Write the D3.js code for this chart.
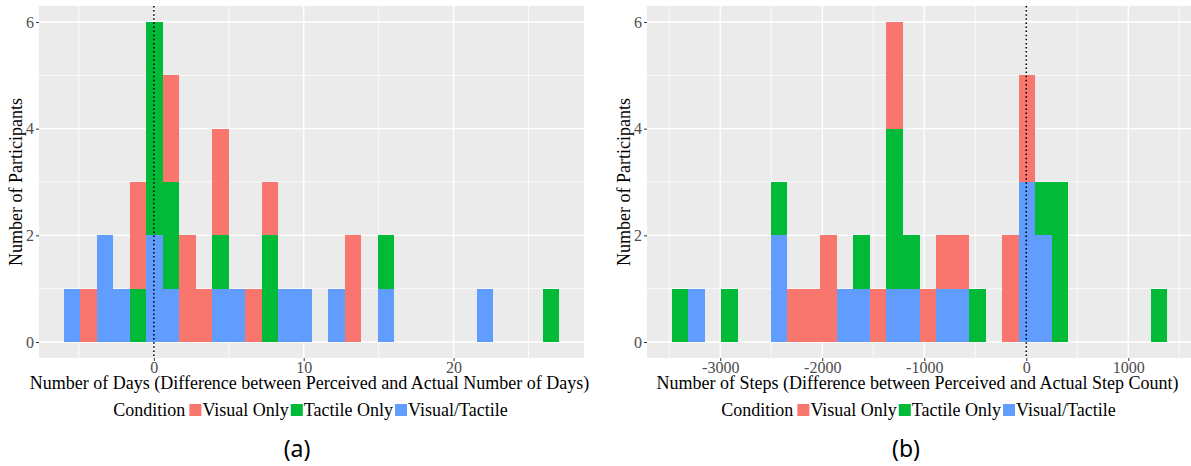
<!DOCTYPE html>
<html lang="en">
<head>
    <meta charset="UTF-8">
    <title>Perceived vs Actual: Days and Steps</title>
    <style>
        html, body {
            margin: 0;
            padding: 0;
            background: #fff;
            overflow: hidden;
        }
        svg {
            display: block;
        }
        text {
            font-family: "Liberation Serif", serif;
        }
        .axis-title {
            fill: #000;
            font-size: 18px;
        }
        .legend-text {
            fill: #000;
            font-size: 18px;
        }
        .caption {
            font-family: "Noto Sans", sans-serif;
            font-size: 23px;
            fill: #000;
        }
    </style>
    <script src="https://d3js.org/d3.v7.min.js"></script>
</head>
<body>
    <svg></svg>
    <script>
        // legend / fill levels (ggplot default hue palette)
        var conditions = ["Visual Only", "Tactile Only", "Visual/Tactile"];
        var conditionColors = ["#F8766D", "#00BA38", "#619CFF"];

        // (a) days: 30 bins, first and last bin centre
        var daysBinRange = [-5.46, 26.5];
        var daysVisualOnly    = [0,1,0,0,2,0,2,2,1,2,0,1,1,0,0,0,0,2,0,0,0,0,0,0,0,0,0,0,0,0];
        var daysTactileOnly   = [0,0,0,0,1,4,2,0,0,1,0,0,2,0,0,0,0,0,0,1,0,0,0,0,0,0,0,0,0,1];
        var daysVisualTactile = [1,0,2,1,0,2,1,0,0,1,1,0,0,1,1,0,1,0,0,1,0,0,0,0,0,1,0,0,0,0];
        var daysTicks = [0, 10, 20];

        // (b) steps: 30 bins, first and last bin centre
        var stepsBinRange = [-3394, 1301];
        var stepsVisualOnly    = [0,0,0,0,0,0,0,1,1,2,0,0,1,2,0,1,1,1,0,0,2,2,0,0,0,0,0,0,0,0];
        var stepsTactileOnly   = [1,0,0,1,0,0,1,0,0,0,0,1,0,3,1,0,0,0,1,0,0,0,1,3,0,0,0,0,0,1];
        var stepsVisualTactile = [0,1,0,0,0,0,2,0,0,0,1,1,0,1,1,0,1,1,0,0,0,3,2,0,0,0,0,0,0,0];
        var stepsTicks = [-3000, -2000, -1000, 0, 1000];

        var yTicks = [0, 2, 4, 6];
        var yLabel = "Number of Participants";

        var width = 1191, height = 466;
        var svg = d3.select("svg").attr("width", width).attr("height", height);

        var panel = {left: 39, top: 6, width: 545, height: 352};

        function styleTicks(axisG) {
            axisG.select(".domain").remove();
            axisG.attr("font-family", null).attr("font-size", null);
            axisG.selectAll(".tick line").attr("stroke", "#333").attr("stroke-width", 1);
            axisG.selectAll(".tick text")
                .style("font-family", "'Liberation Serif', serif")
                .style("font-size", "16px")
                .style("fill", "#4D4D4D");
        }

        function drawHist(opt) {
            var g = svg.append("g")
                .attr("transform", "translate(" + opt.offset + ",0)")
                .attr("clip-path", "url(#" + opt.id + "-clip)");

            g.append("clipPath").attr("id", opt.id + "-clip")
                .append("rect").attr("x", 0).attr("y", 0).attr("width", 589).attr("height", height);

            var nBins = opt.visual.length;
            var binW = (opt.binRange[1] - opt.binRange[0]) / (nBins - 1);
            var rows = d3.range(nBins).map(function(i) {
                return {
                    center: opt.binRange[0] + i * binW,
                    "Visual Only": opt.visual[i],
                    "Tactile Only": opt.tactile[i],
                    "Visual/Tactile": opt.both[i]
                };
            });

            var lo = opt.binRange[0] - binW / 2, hi = opt.binRange[1] + binW / 2;
            var pad = (hi - lo) * 0.05;
            var x = d3.scaleLinear().domain([lo - pad, hi + pad])
                .range([panel.left, panel.left + panel.width]);

            // bottom of stack is last level, as ggplot stacks
            var stacked = d3.stack().keys(conditions.slice().reverse())(rows);
            var yMax = d3.max(rows, function(r) { return r["Visual Only"] + r["Tactile Only"] + r["Visual/Tactile"]; });
            var y = d3.scaleLinear().domain([-0.05 * yMax, yMax * 1.05])
                .range([panel.top + panel.height, panel.top]);

            // panel background
            g.append("rect")
                .attr("x", panel.left).attr("y", panel.top)
                .attr("width", panel.width).attr("height", panel.height)
                .attr("fill", "#EBEBEB");

            // minor grid halfway between majors
            var step = opt.ticks[1] - opt.ticks[0];
            var xMinor = d3.range(opt.ticks.length + 1)
                .map(function(k) { return opt.ticks[0] - step / 2 + k * step; })
                .filter(function(v) { return v > x.domain()[0] && v < x.domain()[1]; });
            var yMinor = [1, 3, 5];
            var grid = g.append("g");
            grid.selectAll(".xminor").data(xMinor).enter().append("line")
                .attr("x1", function(d) { return x(d); }).attr("x2", function(d) { return x(d); })
                .attr("y1", panel.top).attr("y2", panel.top + panel.height)
                .attr("stroke", "#fff").attr("stroke-width", 0.8);
            grid.selectAll(".yminor").data(yMinor).enter().append("line")
                .attr("y1", function(d) { return y(d); }).attr("y2", function(d) { return y(d); })
                .attr("x1", panel.left).attr("x2", panel.left + panel.width)
                .attr("stroke", "#fff").attr("stroke-width", 0.8);
            grid.selectAll(".xmajor").data(opt.ticks).enter().append("line")
                .attr("x1", function(d) { return x(d); }).attr("x2", function(d) { return x(d); })
                .attr("y1", panel.top).attr("y2", panel.top + panel.height)
                .attr("stroke", "#fff").attr("stroke-width", 1.4);
            grid.selectAll(".ymajor").data(yTicks).enter().append("line")
                .attr("y1", function(d) { return y(d); }).attr("y2", function(d) { return y(d); })
                .attr("x1", panel.left).attr("x2", panel.left + panel.width)
                .attr("stroke", "#fff").attr("stroke-width", 1.4);

            // stacked bars
            g.append("g").selectAll("g")
                .data(stacked).enter().append("g")
                .attr("fill", function(s) { return conditionColors[conditions.indexOf(s.key)]; })
                .selectAll("rect")
                .data(function(s) { return s.filter(function(d) { return d[1] > d[0]; }); })
                .enter().append("rect")
                .attr("x", function(d) { return x(d.data.center - binW / 2); })
                .attr("width", function(d) { return x(d.data.center + binW / 2) - x(d.data.center - binW / 2); })
                .attr("y", function(d) { return y(d[1]); })
                .attr("height", function(d) { return y(d[0]) - y(d[1]); })
                .attr("shape-rendering", "crispEdges");

            // zero reference line
            g.append("line")
                .attr("x1", x(0)).attr("x2", x(0))
                .attr("y1", panel.top).attr("y2", panel.top + panel.height)
                .attr("stroke", "#000").attr("stroke-width", 1.6)
                .attr("stroke-dasharray", "1.5 2.6");

            // axes
            var xAxis = g.append("g")
                .attr("transform", "translate(0," + (panel.top + panel.height) + ")")
                .call(d3.axisBottom(x).tickValues(opt.ticks).tickSize(3).tickPadding(1)
                    .tickFormat(function(d) { return String(d); }));
            styleTicks(xAxis);

            var yAxis = g.append("g")
                .attr("transform", "translate(" + panel.left + ",0)")
                .call(d3.axisLeft(y).tickValues(yTicks).tickSize(3).tickPadding(2)
                    .tickFormat(function(d) { return String(d); }));
            styleTicks(yAxis);

            var cx = panel.left + panel.width / 2;

            // titles
            g.append("text").attr("class", "axis-title")
                .attr("x", cx - 2).attr("y", 389)
                .attr("text-anchor", "middle")
                .text(opt.xTitle);

            g.append("text").attr("class", "axis-title")
                .attr("transform", "translate(22," + (panel.top + panel.height / 2) + ") rotate(-90)")
                .attr("text-anchor", "middle")
                .text(yLabel);

            // legend, centred under the panel
            var legend = g.append("g");
            var title = legend.append("text").attr("class", "legend-text")
                .attr("x", 0).attr("y", 416).text("Condition");
            var lx = title.node().getComputedTextLength() + 4;
            conditions.forEach(function(c, i) {
                legend.append("rect")
                    .attr("x", lx).attr("y", 404)
                    .attr("width", 12).attr("height", 12)
                    .attr("fill", conditionColors[i]);
                lx += 13;
                var t = legend.append("text").attr("class", "legend-text")
                    .attr("x", lx).attr("y", 416).text(c);
                lx += t.node().getComputedTextLength() + 2;
            });
            legend.attr("transform", "translate(" + (cx - lx / 2) + ",0)");

            g.append("text").attr("class", "caption")
                .attr("x", opt.captionX).attr("y", 457)
                .attr("text-anchor", "middle")
                .text(opt.caption);
        }

        drawHist({
            id: "days", offset: 0,
            binRange: daysBinRange,
            visual: daysVisualOnly, tactile: daysTactileOnly, both: daysVisualTactile,
            ticks: daysTicks,
            xTitle: "Number of Days (Difference between Perceived and Actual Number of Days)",
            caption: "(a)", captionX: 297
        });

        drawHist({
            id: "steps", offset: 608,
            binRange: stepsBinRange,
            visual: stepsVisualOnly, tactile: stepsTactileOnly, both: stepsVisualTactile,
            ticks: stepsTicks,
            xTitle: "Number of Steps (Difference between Perceived and Actual Step Count)",
            caption: "(b)", captionX: 298
        });
    </script>
</body>
</html>
